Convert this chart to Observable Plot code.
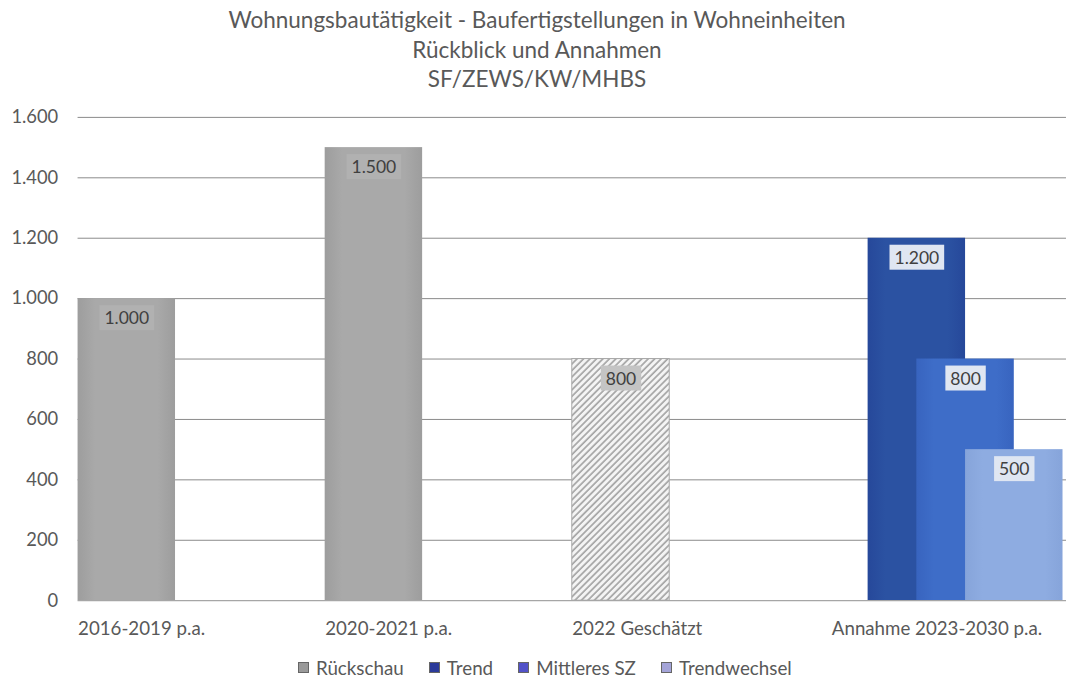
<!DOCTYPE html>
<html><head><meta charset="utf-8">
<script src="https://cdn.jsdelivr.net/npm/d3@7"></script>
<script src="https://cdn.jsdelivr.net/npm/@observablehq/plot@0.6"></script>
<style>
body{margin:0;width:1066px;height:681px;overflow:hidden;background:#fff;font-family:Lato,"Open Sans",sans-serif;position:relative}
#title{position:absolute;left:0;width:1074px;top:5px;text-align:center;color:#595959;font-size:22.5px;line-height:29.5px}
#chart{position:absolute;left:0;top:100px}
#legend{position:absolute;top:656px;left:298px;display:flex;align-items:center;color:#595959;font-size:18.8px;white-space:nowrap}
.item{display:flex;align-items:center;margin-right:25px}
.sw{width:9px;height:9px;margin-right:7px;border:1px solid #666}
</style></head>
<body>
<div id="title">Wohnungsbautätigkeit - Baufertigstellungen in Wohneinheiten<br>Rückblick und Annahmen<br>SF/ZEWS/KW/MHBS</div>
<div id="chart"></div>
<div id="legend"></div>
<script>
const categories = ["2016-2019 p.a.", "2020-2021 p.a.", "2022 Geschätzt", "Annahme 2023-2030 p.a."];
const seriesNames = ["Rückschau", "Trend", "Mittleres SZ", "Trendwechsel"];
const rueckschau = [1000, 1500, 800, null];
const trend = [null, null, null, 1200];
const mittleres = [null, null, null, 800];
const trendwechsel = [null, null, null, 500];
const geschaetzt = [false, false, true, false];
const yTicks = [0, 200, 400, 600, 800, 1000, 1200, 1400, 1600];

const fills = ["url(#gGray)", "url(#gTrend)", "url(#gMittel)", "url(#gWechsel)"];
const boxFills = ["#b1b1b1", "#dfe6f2", "#dfe6f2", "#dfe6f2"];
const legendColors = ["#9a9a9a", "#2b3a9a", "#5252c8", "#a4a4d8"];

const loc = d3.formatLocale({decimal: ",", thousands: ".", grouping: [3], currency: ["", " €"]});
const fmt = loc.format(",.0f");

const catW = 248.5;
const barW = 98 / catW, step = 49 / catW;
const rows = [];
[rueckschau, trend, mittleres, trendwechsel].forEach((vals, k) => vals.forEach((v, i) => {
  if (v != null) rows.push({i, k, v, cat: categories[i], series: seriesNames[k], est: geschaetzt[i]});
}));
const x1 = d => d.i + d.k * step, x2 = d => d.i + d.k * step + barW;

const solidMarks = [0, 1, 2, 3].map(k => Plot.rectY(rows.filter(d => d.k === k && !d.est), {x1, x2, y1: 0, y2: "v", fill: fills[k]}));
const estMark = Plot.rectY(rows.filter(d => d.est), {x1, x2, y1: 0, y2: "v", fill: "url(#hatch)", stroke: "#a8a8a8", strokeWidth: 1});
const catData = categories.map((c, i) => ({c, i}));

const plot = Plot.plot({
  width: 78 + 4 * catW, height: 560,
  marginLeft: 78, marginRight: 0, marginTop: 17, marginBottom: 57,
  x: {domain: [0, 4], axis: null},
  y: {domain: [0, 1600], axis: null},
  style: {fontFamily: 'Lato, "Open Sans", sans-serif', background: "transparent"},
  marks: [
    Plot.ruleY(yTicks.filter(t => t > 0), {stroke: "#8a8a8a", strokeWidth: 1}),
    Plot.axisY({ticks: yTicks, tickSize: 0, tickPadding: 20, tickFormat: fmt, fontSize: 18.4, fill: "#595959", label: null}),
    solidMarks[0], estMark, solidMarks[1], solidMarks[2], solidMarks[3],
    Plot.ruleY([0], {stroke: "#a6a6a6", strokeWidth: 1.2}),
    Plot.text(rows, {x: d => (x1(d) + x2(d)) / 2, y: "v", text: d => fmt(d.v), dy: 20, fontSize: 17.6, fill: "#404040"}),
    Plot.text(catData.filter(d => d.i < 3), {x: "i", y: 0, text: "c", dy: 28, textAnchor: "start", fontSize: 18.8, fill: "#595959"}),
    Plot.text(catData.filter(d => d.i === 3), {x: d => d.i + 0.5, y: 0, text: "c", dy: 28, dx: -6, textAnchor: "middle", fontSize: 18.8, fill: "#595959"})
  ]
});
document.getElementById("chart").appendChild(plot);

// defs: gradients and hatch pattern
const svg = d3.select(plot);
const defs = svg.insert("defs", ":first-child");
function grad(id, edge, mid) {
  const g = defs.append("linearGradient").attr("id", id).attr("x1", 0).attr("x2", 1).attr("y1", 0).attr("y2", 0);
  [[0, edge], [0.18, mid], [0.82, mid], [1, edge]].forEach(([o, c]) => g.append("stop").attr("offset", o).attr("stop-color", c));
}
grad("gGray", "#9d9d9d", "#a9a9a9");
grad("gTrend", "#26489a", "#2b52a2");
grad("gMittel", "#3864bf", "#3e6dc8");
grad("gWechsel", "#86a4da", "#8eace1");
const pat = defs.append("pattern").attr("id", "hatch").attr("patternUnits", "userSpaceOnUse")
  .attr("width", 4.6).attr("height", 4.6).attr("patternTransform", "rotate(45)");
pat.append("rect").attr("width", 4.6).attr("height", 4.6).attr("fill", "#f4f4f4");
pat.append("line").attr("x1", 1).attr("x2", 1).attr("y1", 0).attr("y2", 4.6).attr("stroke", "#a0a0a0").attr("stroke-width", 1.6);

// boxes behind value labels (first text mark group)
const labelGroup = plot.querySelector('g[aria-label="text"]');
labelGroup.querySelectorAll("text").forEach((t, j) => {
  const d = rows[j];
  const bb = t.getBBox();
  const tr = t.getAttribute("transform");
  const r = document.createElementNS("http://www.w3.org/2000/svg", "rect");
  r.setAttribute("x", bb.x - 5); r.setAttribute("y", bb.y - 2);
  r.setAttribute("width", bb.width + 10); r.setAttribute("height", bb.height + 4);
  r.setAttribute("fill", d.est ? "#c4c4c4" : boxFills[d.k]);
  if (tr) r.setAttribute("transform", tr);
  t.parentNode.insertBefore(r, t);
});

// legend
const legend = d3.select("#legend");
seriesNames.forEach((s, k) => {
  const it = legend.append("div").attr("class", "item");
  it.append("div").attr("class", "sw").style("background", legendColors[k]);
  it.append("span").text(s);
});
</script>
</body></html>
